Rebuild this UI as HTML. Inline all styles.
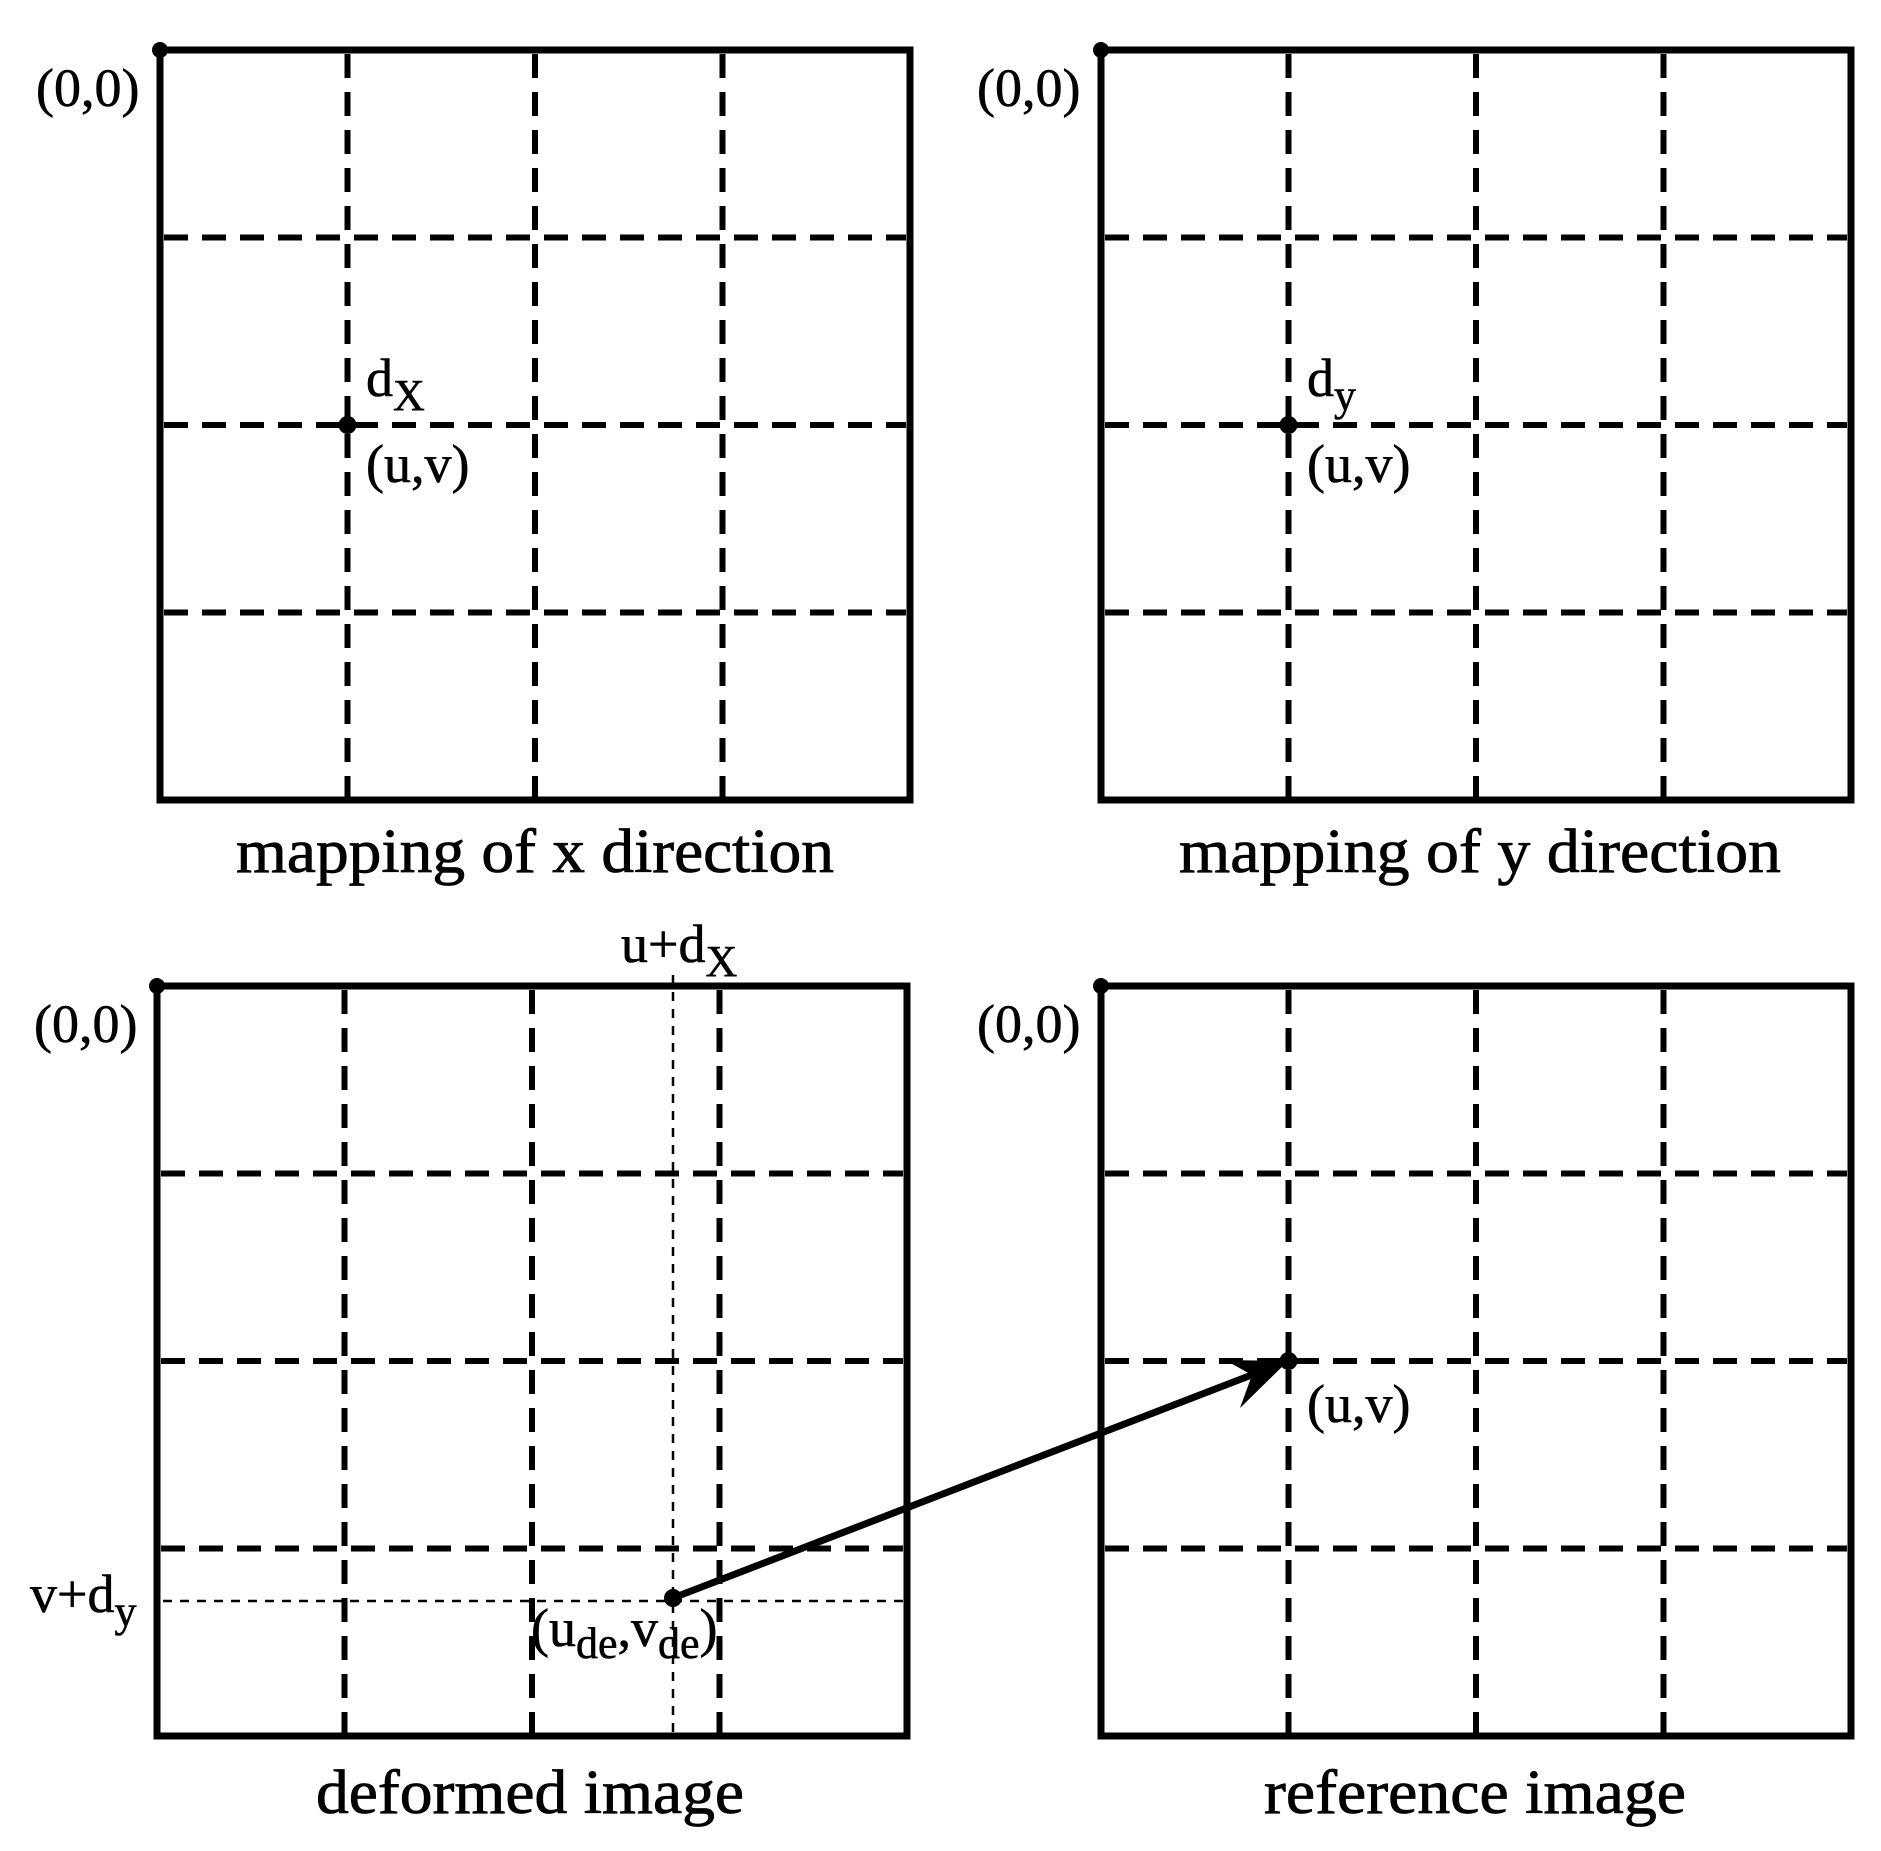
<!DOCTYPE html>
<html><head><meta charset="utf-8"><style>html,body{margin:0;padding:0;background:#fff}svg{display:block}text{font-family:"Liberation Serif","Times New Roman",serif}</style></head>
<body>
<svg width="1881" height="1851" viewBox="0 0 1881 1851" xmlns="http://www.w3.org/2000/svg" fill="#000">
<defs>
<g id="grid">
  <g stroke="#000" stroke-width="6" stroke-dasharray="24 14" fill="none">
    <line x1="187.5" y1="4" x2="187.5" y2="750"/>
    <line x1="375" y1="4" x2="375" y2="750"/>
    <line x1="562.5" y1="4" x2="562.5" y2="750"/>
    <line x1="4" y1="187.5" x2="746" y2="187.5"/>
    <line x1="4" y1="375" x2="746" y2="375"/>
    <line x1="4" y1="562.5" x2="746" y2="562.5"/>
  </g>
  <rect x="0" y="0" width="750" height="750" fill="none" stroke="#000" stroke-width="7"/>
  <circle cx="0" cy="0" r="8"/>
</g>
</defs>
<use href="#grid" x="160" y="50"/>
<use href="#grid" x="1101" y="50"/>
<use href="#grid" x="157" y="986"/>
<use href="#grid" x="1101" y="986"/>

<circle cx="347.5" cy="425" r="9"/>
<circle cx="1288.5" cy="425" r="9"/>
<circle cx="1288.5" cy="1361" r="9"/>
<circle cx="673" cy="1598" r="9"/>

<g stroke="#000" stroke-width="2.5" stroke-dasharray="9 8" fill="none">
  <line x1="673" y1="975" x2="673" y2="1738"/>
  <line x1="163" y1="1601" x2="905" y2="1601"/>
</g>

<line x1="673" y1="1598" x2="1262" y2="1371" stroke="#000" stroke-width="7"/>
<path d="M1288 1361 L1240 1408 L1252 1375 L1225 1360 Z"/>

<g font-size="54" stroke="#000" stroke-width="0.6">
  <text x="36" y="106">(0,0)</text>
  <text x="977" y="106">(0,0)</text>
  <text x="34" y="1042">(0,0)</text>
  <text x="977" y="1042">(0,0)</text>
  <text x="366" y="396">d<tspan font-size="44" dy="14">X</tspan></text>
  <text x="1307" y="396">d<tspan font-size="44" dy="14">y</tspan></text>
  <text x="366" y="482">(u,v)</text>
  <text x="1307" y="482">(u,v)</text>
  <text x="1307" y="1422">(u,v)</text>
  <text x="621" y="962">u+d<tspan font-size="44" dy="14">X</tspan></text>
  <text x="30" y="1612">v+d<tspan font-size="44" dy="14">y</tspan></text>
  <text x="531" y="1646">(u<tspan font-size="44" dy="12">de</tspan><tspan dy="-12">,v</tspan><tspan font-size="44" dy="12">de</tspan><tspan dy="-12">)</tspan></text>
</g>
<g font-size="62" stroke="#000" stroke-width="0.8">
  <text x="236" y="872" textLength="598" lengthAdjust="spacingAndGlyphs">mapping of x direction</text>
  <text x="1179" y="872" textLength="602" lengthAdjust="spacingAndGlyphs">mapping of y direction</text>
  <text x="316" y="1813" textLength="428" lengthAdjust="spacingAndGlyphs">deformed image</text>
  <text x="1264" y="1813" textLength="422" lengthAdjust="spacingAndGlyphs">reference image</text>
</g>
</svg>
</body></html>
